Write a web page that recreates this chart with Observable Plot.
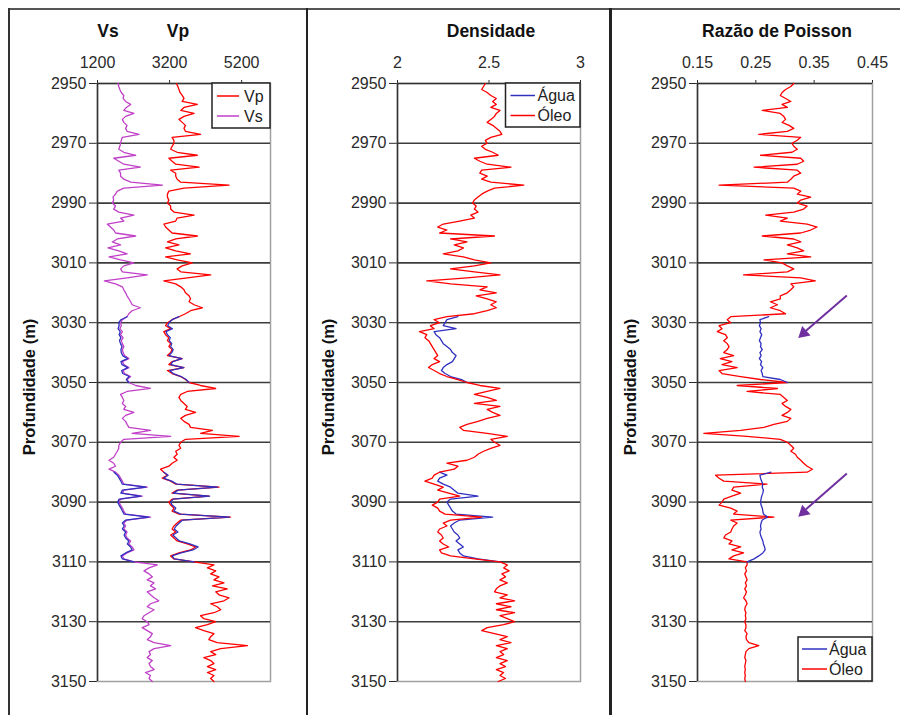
<!DOCTYPE html>
<html>
<head>
<meta charset="utf-8">
<script src="https://cdn.jsdelivr.net/npm/d3@7"></script>
<script src="https://cdn.jsdelivr.net/npm/@observablehq/plot@0.6"></script>
<style>
  html, body { margin: 0; padding: 0; background: #fff; }
  #wrap { position: relative; width: 900px; height: 715px; overflow: hidden; background: #fff; }
  .panel { position: absolute; top: 0; }
  .line { position: absolute; background: #333; }
  #overlay { position: absolute; left: 0; top: 0; pointer-events: none; }
</style>
</head>
<body>
<div id="wrap">
  <div class="line" style="left:8px;top:8px;width:892px;height:2px;background:#555"></div>
  <div class="line" style="left:8px;top:8px;width:2px;height:707px;background:#333"></div>
  <div class="line" style="left:305.5px;top:8px;width:2.5px;height:707px;background:#222"></div>
  <div class="line" style="left:609px;top:8px;width:2.5px;height:707px;background:#222"></div>
  <div id="p1" class="panel" style="left:0px"></div>
  <div id="p2" class="panel" style="left:306px"></div>
  <div id="p3" class="panel" style="left:610px"></div>
  <svg id="overlay" width="900" height="715" font-family="'Liberation Sans', Arial, Helvetica, sans-serif">
    <g font-weight="bold" font-size="17.5" text-anchor="middle" fill="#111">
      <text x="108" y="37">Vs</text>
      <text x="178" y="37">Vp</text>
      <text x="491" y="37">Densidade</text>
      <text x="777" y="37">Razão de Poisson</text>
    </g>
    <g font-weight="bold" font-size="16.5" text-anchor="middle" fill="#111">
      <text transform="translate(35,387) rotate(-90)">Profundidade (m)</text>
      <text transform="translate(334,387) rotate(-90)">Profundidade (m)</text>
      <text transform="translate(636,387) rotate(-90)">Profundidade (m)</text>
    </g>
    <g font-size="16" fill="#222">
      <rect x="212" y="83" width="58" height="45" fill="#fff" stroke="#222" stroke-width="1.5"/>
      <line x1="217" x2="239" y1="96" y2="96" stroke="#ff0000" stroke-width="1.5"/>
      <text x="244" y="102">Vp</text>
      <line x1="217" x2="239" y1="116" y2="116" stroke="#c040c8" stroke-width="1.5"/>
      <text x="244" y="122">Vs</text>

      <rect x="505.5" y="83" width="74.5" height="44" fill="#fff" stroke="#222" stroke-width="1.5"/>
      <line x1="510.5" x2="535" y1="95.5" y2="95.5" stroke="#3030c0" stroke-width="1.5"/>
      <text x="537.5" y="101">Água</text>
      <line x1="510.5" x2="535" y1="115.5" y2="115.5" stroke="#ff0000" stroke-width="1.5"/>
      <text x="537.5" y="121">Óleo</text>

      <rect x="798" y="637" width="74" height="44" fill="#fff" stroke="#222" stroke-width="1.5"/>
      <line x1="802" x2="827" y1="649" y2="649" stroke="#3030c0" stroke-width="1.5"/>
      <text x="829" y="655">Água</text>
      <line x1="802" x2="827" y1="669" y2="669" stroke="#ff0000" stroke-width="1.5"/>
      <text x="829" y="675">Óleo</text>
    </g>
  </svg>
</div>
<script>
// ---------------- DATA ----------------
const depthTicks = [2950, 2970, 2990, 3010, 3030, 3050, 3070, 3090, 3110, 3130, 3150];
const gridDepths = [2970, 2990, 3010, 3030, 3050, 3070, 3090, 3110, 3130];
const velTicks = [1200, 3200, 5200];
const densTicks = [2, 2.5, 3];
const poissonTicks = [0.15, 0.25, 0.35, 0.45];

// depth samples, 1 m step, 2950..3150 m
const depth = d3.range(2950, 3151);
// water-saturated intervals
const aguaDepth1 = d3.range(3028, 3051);
const aguaDepth2 = d3.range(3080, 3111);

const vsOleo = [
1770,1790,1820,1860,1930,1910,1980,2120,2000,1930,
2210,1980,1890,1930,2020,1980,2020,2350,1890,1860,
1840,1820,1790,1930,2260,1650,1790,1930,2390,1790,
1840,1840,1930,2120,3000,1930,1750,1700,1630,1650,
1610,1700,1650,1790,2210,1840,1930,1470,1560,1650,
1700,2260,1750,1610,1840,1490,1790,2020,1520,1840,
2210,1930,1840,1890,2580,2020,1390,1700,1890,1930,
1980,2020,2070,2120,2160,2390,2160,2070,2020,1890,
1840,1860,1820,1890,1840,1910,1860,1890,1930,1890,
1910,1950,2070,1890,1930,2070,1910,1950,2120,2020,
2070,2260,2670,2020,1840,1890,1930,1890,1980,1930,
2210,1980,1890,1980,2020,2070,2670,2160,3230,1930,
1840,1790,1790,1750,1700,1650,1520,1650,1700,1520,
1700,1790,1840,1890,1930,2580,1930,1890,2440,1840,
1790,1840,1890,1930,1980,2670,2020,1930,1980,1930,
2020,1980,2020,2120,2070,2160,2210,2020,1890,1930,
2210,2860,2630,2490,2630,2720,2580,2770,2670,2810,
2580,2670,2770,2900,2670,2580,2770,2630,2490,2440,
2580,2630,2440,2580,2720,2670,2580,2770,3230,2770,
2630,2670,2580,2720,2630,2670,2770,2530,2670,2630,
2720];

const vpOleo = [
3390,3430,3460,3490,3550,3600,3550,3970,3600,3510,
3880,3600,3460,3550,3640,3600,3640,4060,3270,3320,
3320,3270,3230,3410,3970,3180,3270,3370,4020,3230,
3370,3370,3410,3510,4850,3600,3180,3140,3140,3180,
3140,3230,3230,3320,3880,3410,3370,3040,3090,3180,
3270,3970,3370,3140,3460,3090,3370,3780,3090,3410,
3830,3550,3410,3510,4340,3690,3040,3370,3510,3600,
3640,3740,3780,3740,3880,4110,3780,3640,3460,3270,
3140,3090,3230,3040,3090,3180,3140,3230,3180,3270,
3230,3140,3550,3270,3180,3600,3140,3270,3510,3640,
3740,4060,4480,3690,3510,3460,3510,3600,3690,3640,
3920,3640,3510,3600,3740,3780,4390,4060,5130,3640,
3510,3460,3510,3370,3410,3320,3410,3270,3180,2950,
3040,3140,3000,3230,3370,4570,3410,3270,4290,3270,
3180,3230,3320,3270,3460,4890,3510,3410,3320,3270,
3370,3230,3320,3410,3690,3920,3780,3460,3230,3320,
3880,4430,4250,4480,4340,4570,4430,4710,4390,4800,
4480,4570,4850,4710,4340,4520,4620,4430,4060,4150,
4480,4250,3920,4150,4430,4340,4290,4520,5360,4620,
4340,4480,4150,4340,4430,4250,4480,4250,4430,4340,
4430];

const vpAgua1 = [3460,3270,3180,3150,3280,3100,3140,3220,3190,3260,3230,3300,3260,3180,3540,3290,3230,3590,3200,3300,3520,3660,3740];
const vsAgua1 = [2020,1850,1790,1800,1770,1830,1800,1850,1810,1840,1880,1850,1860,1900,2030,1850,1880,2040,1870,1900,2080,2000,2070];
const vpAgua2 = [3040,3160,3030,3260,3400,4530,3440,3300,4310,3300,
                 3230,3270,3370,3320,3510,4860,3560,3470,3380,3330,
                 3430,3290,3380,3470,3760,3990,3850,3520,3270,3330,3880];
const vsAgua2 = [1660,1750,1800,1850,1890,2540,1890,1850,2400,1800,
                 1760,1800,1850,1890,1940,2620,1980,1890,1940,1890,
                 1980,1940,1980,2070,2030,2120,2160,1980,1850,1890,2210];

const densOleo = [
2.48,2.47,2.46,2.49,2.51,2.54,2.52,2.54,2.51,2.56,
2.54,2.53,2.51,2.49,2.52,2.54,2.56,2.57,2.51,2.48,
2.49,2.46,2.48,2.52,2.55,2.42,2.45,2.49,2.62,2.46,
2.45,2.49,2.46,2.51,2.69,2.53,2.49,2.46,2.44,2.42,
2.41,2.43,2.42,2.44,2.40,2.42,2.34,2.25,2.22,2.27,
2.23,2.53,2.29,2.38,2.31,2.36,2.33,2.25,2.36,2.42,
2.51,2.42,2.29,2.42,2.56,2.38,2.16,2.29,2.49,2.45,
2.54,2.43,2.49,2.54,2.51,2.54,2.49,2.42,2.27,2.20,
2.23,2.18,2.20,2.12,2.16,2.15,2.17,2.18,2.19,2.20,
2.21,2.22,2.20,2.23,2.19,2.17,2.20,2.23,2.27,2.33,
2.38,2.45,2.56,2.49,2.42,2.49,2.54,2.42,2.56,2.49,
2.52,2.56,2.49,2.44,2.38,2.34,2.36,2.49,2.60,2.51,
2.53,2.56,2.51,2.47,2.44,2.42,2.38,2.27,2.33,2.31,
2.23,2.20,2.19,2.15,2.20,2.25,2.22,2.28,2.34,2.23,
2.22,2.19,2.22,2.23,2.26,2.46,2.29,2.25,2.27,2.23,
2.22,2.24,2.25,2.23,2.25,2.28,2.23,2.24,2.29,2.42,
2.56,2.60,2.58,2.61,2.57,2.59,2.56,2.60,2.56,2.54,
2.53,2.60,2.56,2.64,2.54,2.62,2.54,2.64,2.56,2.60,
2.64,2.58,2.49,2.46,2.53,2.60,2.56,2.62,2.54,2.60,
2.56,2.58,2.54,2.60,2.56,2.59,2.54,2.58,2.56,2.59,
2.55];

const densAgua1 = [2.33,2.27,2.26,2.25,2.32,2.20,2.21,2.23,2.24,2.25,
                   2.27,2.29,2.30,2.32,2.31,2.30,2.27,2.25,2.24,2.26,
                   2.29,2.35,2.38];
const densAgua2 = [2.23,2.27,2.23,2.22,2.25,2.29,2.31,2.33,2.44,2.29,
                   2.27,2.28,2.29,2.30,2.32,2.52,2.34,2.31,2.29,2.30,
                   2.31,2.33,2.34,2.32,2.34,2.36,2.33,2.34,2.36,2.44,2.56];

const poissonOleo = [
0.315,0.310,0.301,0.295,0.292,0.301,0.310,0.295,0.304,0.261,
0.292,0.298,0.301,0.295,0.307,0.315,0.304,0.255,0.327,0.321,
0.312,0.315,0.321,0.312,0.258,0.327,0.332,0.321,0.247,0.321,
0.327,0.315,0.310,0.304,0.187,0.315,0.327,0.321,0.344,0.327,
0.321,0.338,0.332,0.315,0.267,0.304,0.292,0.338,0.355,0.344,
0.327,0.261,0.315,0.327,0.304,0.321,0.332,0.304,0.344,0.264,
0.295,0.304,0.315,0.304,0.229,0.327,0.352,0.310,0.315,0.310,
0.304,0.292,0.292,0.275,0.287,0.275,0.292,0.301,0.207,0.201,
0.207,0.187,0.192,0.184,0.198,0.201,0.195,0.201,0.204,0.201,
0.195,0.212,0.189,0.209,0.192,0.218,0.187,0.192,0.224,0.258,
0.304,0.218,0.287,0.235,0.292,0.298,0.304,0.295,0.301,0.310,
0.304,0.295,0.310,0.304,0.281,0.264,0.224,0.161,0.235,0.292,
0.304,0.310,0.315,0.310,0.318,0.321,0.327,0.332,0.338,0.347,
0.338,0.181,0.187,0.195,0.269,0.212,0.209,0.224,0.209,0.195,
0.192,0.187,0.207,0.218,0.212,0.281,0.207,0.218,0.212,0.209,
0.207,0.198,0.195,0.209,0.204,0.224,0.209,0.229,0.212,0.204,
0.235,0.235,0.232,0.234,0.231,0.233,0.235,0.232,0.234,0.231,
0.234,0.232,0.229,0.233,0.235,0.232,0.231,0.233,0.232,0.233,
0.231,0.233,0.233,0.231,0.235,0.233,0.234,0.238,0.255,0.238,
0.233,0.232,0.231,0.233,0.232,0.231,0.232,0.231,0.232,0.231,
0.232];

const poissonAgua1 = [0.272,0.257,0.258,0.256,0.259,0.257,0.260,0.258,0.256,0.259,
                      0.258,0.261,0.257,0.259,0.256,0.260,0.258,0.262,0.259,0.261,
                      0.262,0.292,0.304];
const poissonAgua2 = [0.276,0.257,0.258,0.260,0.262,0.261,0.263,0.262,0.260,0.259,
                      0.258,0.259,0.261,0.262,0.263,0.270,0.261,0.259,0.258,0.259,
                      0.257,0.258,0.260,0.262,0.263,0.265,0.266,0.262,0.255,0.247,0.235];

// annotation arrows in the Poisson panel (data units)
const arrowTailPoisson = [0.406, 0.406];
const arrowTailDepth = [3020.9, 3080.4];
const arrowShaftEndPoisson = [0.336, 0.336];
const arrowShaftEndDepth = [3032.7, 3092.4];
const arrowHeadPoisson = [0.332, 0.332];
const arrowHeadDepth = [3033.5, 3093.3];

// ---------------- DRAW ----------------
const FONT = "'Liberation Sans', Arial, Helvetica, sans-serif";
const RED = "#ff0000", PURPLE = "#c040c8", BLUE = "#3030c0", ARROW = "#7030a0";

function panel({width, ml, mr, xDomain, xTicks, marks}) {
  return Plot.plot({
    width, height: 715,
    marginLeft: ml, marginRight: mr, marginTop: 83, marginBottom: 34,
    style: {fontFamily: FONT, fontSize: "16px", color: "#2a2a2a", background: "transparent", overflow: "visible"},
    x: {domain: xDomain, axis: "top", ticks: xTicks, tickFormat: d => String(d), tickSize: 4, tickPadding: 12, label: null},
    y: {domain: [2950, 3150], reverse: true, ticks: depthTicks, tickFormat: d => String(d), tickSize: 8, tickPadding: 3, label: null},
    marks: [
      Plot.frame({stroke: "#a0a0a0", strokeWidth: 1.5}),
      Plot.ruleY(gridDepths, {stroke: "#3c3c3c", strokeWidth: 1.6}),
      Plot.ruleX([xDomain[0]], {stroke: "#333", strokeWidth: 1.5}),
      Plot.ruleY([2950], {stroke: "#333", strokeWidth: 1.5}),
      ...marks
    ]
  });
}

const lw = 1.3;
const lineOpts = (x, y, stroke) => ({x, y, stroke, strokeWidth: lw, strokeLinejoin: "round", curve: "linear"});

document.getElementById("p1").append(panel({
  width: 306, ml: 97, mr: 36, xDomain: [1200, 6000], xTicks: velTicks,
  marks: [
    Plot.line(depth, lineOpts(vsOleo, depth, PURPLE)),
    Plot.line(depth, lineOpts(vpOleo, depth, RED)),
    Plot.line(aguaDepth1, lineOpts(vsAgua1, aguaDepth1, BLUE)),
    Plot.line(aguaDepth2, lineOpts(vsAgua2, aguaDepth2, BLUE)),
    Plot.line(aguaDepth1, lineOpts(vpAgua1, aguaDepth1, BLUE)),
    Plot.line(aguaDepth2, lineOpts(vpAgua2, aguaDepth2, BLUE))
  ]
}));

document.getElementById("p2").append(panel({
  width: 304, ml: 91, mr: 30, xDomain: [2, 3], xTicks: densTicks,
  marks: [
    Plot.line(aguaDepth1, lineOpts(densAgua1, aguaDepth1, BLUE)),
    Plot.line(aguaDepth2, lineOpts(densAgua2, aguaDepth2, BLUE)),
    Plot.line(depth, lineOpts(densOleo, depth, RED))
  ]
}));

document.getElementById("p3").append(panel({
  width: 290, ml: 87, mr: 28, xDomain: [0.15, 0.45], xTicks: poissonTicks,
  marks: [
    Plot.line(depth, lineOpts(poissonOleo, depth, RED)),
    Plot.line(aguaDepth1, lineOpts(poissonAgua1, aguaDepth1, BLUE)),
    Plot.line(aguaDepth2, lineOpts(poissonAgua2, aguaDepth2, BLUE)),
    Plot.link(arrowTailDepth, {
      x1: arrowTailPoisson, y1: arrowTailDepth, x2: arrowShaftEndPoisson, y2: arrowShaftEndDepth,
      stroke: ARROW, strokeWidth: 2
    }),
    Plot.dot(arrowHeadDepth, {
      x: arrowHeadPoisson, y: arrowHeadDepth, symbol: "triangle2", r: 6,
      fill: ARROW, stroke: "none", rotate: 228
    })
  ]
}));
</script>
</body>
</html>
